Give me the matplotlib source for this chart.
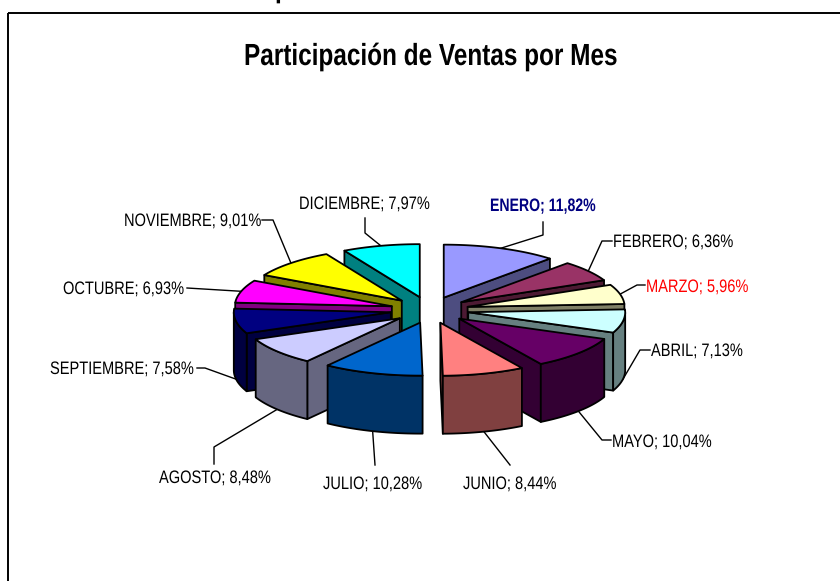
import numpy as np
import matplotlib
matplotlib.use('Agg')
import matplotlib.pyplot as plt
from matplotlib.patches import Polygon, Rectangle
from matplotlib.patheffects import AbstractPathEffect
from matplotlib.transforms import Affine2D

months = ['ENERO', 'FEBRERO', 'MARZO', 'ABRIL', 'MAYO', 'JUNIO', 'JULIO',
          'AGOSTO', 'SEPTIEMBRE', 'OCTUBRE', 'NOVIEMBRE', 'DICIEMBRE']
shares = [11.82, 6.36, 5.96, 7.13, 10.04, 8.44, 10.28, 8.48, 7.58, 6.93, 9.01, 7.97]
top_colors = ['#9999FF', '#993366', '#FFFFCC', '#CCFFFF', '#660066', '#FF8080',
              '#0066CC', '#CCCCFF', '#000080', '#FF00FF', '#FFFF00', '#00FFFF']
side_colors = ['#4D4D80', '#4D1A33', '#808066', '#668080', '#330033', '#804040',
               '#003366', '#666680', '#000040', '#800080', '#808000', '#008080']

# pie geometry in pixels
cx, cy = 429.5, 310
rx, ry = 157, 53
explode = 0.25
depth = 58
# the front slices sit slightly right of where the plain ellipse puts them
x_nudge = {'JULIO': 2.5, 'AGOSTO': 1}

# label layout: left x, baseline y and the leader bends
label_pos = [(490, 211), (613, 247), (646, 292), (651, 356),
             (612, 447), (463, 489), (323, 489), (159, 483),
             (50, 374), (63, 294), (124, 226), (299, 209)]
leader_bends = [[(543, 235), (543, 222)], [(602, 241), (612, 241)], [(637, 285), (645, 285)],
                [(640, 350), (650, 350)], [(602, 440), (611, 440)], [(510, 465)], [(375, 465)],
                [(214, 447), (214, 464)], [(205, 368), (197, 368)], [(187, 288)],
                [(273, 220), (262, 220)], [(365, 233), (365, 218)]]
label_colors = {'ENERO': '#000080', 'MARZO': '#FF0000'}

plt.rcParams['font.family'] = ['Liberation Sans', 'DejaVu Sans']


# the original text is a condensed Arial, so squeeze the glyphs sideways
class Squeeze(AbstractPathEffect):
    def __init__(self, sx):
        super().__init__()
        self.sx = sx

    def draw_path(self, renderer, gc, tpath, affine, rgbFace=None):
        renderer.draw_path(gc, tpath, Affine2D().scale(self.sx, 1) + affine, rgbFace)


fig = plt.figure(figsize=(8.4, 5.81), dpi=100)
ax = fig.add_axes([0, 0, 1, 1])
ax.set_xlim(0, 840)
ax.set_ylim(581, 0)
ax.axis('off')

ax.add_patch(Rectangle((8, 12.5), 900, 700, fill=False, ec='black', lw=1.4))
ax.text(244, 65, 'Participación de Ventas por Mes', ha='left', va='baseline',
        fontsize=22, fontweight='bold', color='black', path_effects=[Squeeze(0.797)])
ax.text(275, -3, 'p', ha='left', va='baseline', fontsize=22, fontweight='bold',
        color='black', path_effects=[Squeeze(0.797)])

fractions = np.array(shares) / sum(shares)
ends = np.cumsum(fractions) * 2 * np.pi
starts = ends - fractions * 2 * np.pi
mids = (starts + ends) / 2


def rim(apex, a):
    return apex[0] + rx * np.sin(a), apex[1] - ry * np.cos(a)


def slice_apex(i):
    return (cx + explode * rx * np.sin(mids[i]) + x_nudge.get(months[i], 0),
            cy - explode * ry * np.cos(mids[i]))


# back slices first, front slices last
order = np.argsort(-np.cos(mids))
for i in order:
    apex = slice_apex(i)
    angles = np.linspace(starts[i], ends[i], 60)
    xs, ys = rim(apex, angles)

    # radial side faces
    for a, visible in ((starts[i], np.sin(starts[i]) < 0), (ends[i], np.sin(ends[i]) > 0)):
        if visible:
            x1, y1 = rim(apex, a)
            face = [apex, (x1, y1), (x1, y1 + depth), (apex[0], apex[1] + depth)]
            ax.add_patch(Polygon(face, fc=side_colors[i], ec='black', lw=1.3, joinstyle='round'))

    # outer wall
    front = np.cos(angles) < 0
    if front.any():
        fx, fy = xs[front], ys[front]
        wall = np.column_stack([np.r_[fx, fx[::-1]], np.r_[fy, fy[::-1] + depth]])
        ax.add_patch(Polygon(wall, fc=side_colors[i], ec='black', lw=1.3, joinstyle='round'))

    # top face
    top = np.column_stack([np.r_[apex[0], xs], np.r_[apex[1], ys]])
    ax.add_patch(Polygon(top, fc=top_colors[i], ec='black', lw=1.3, joinstyle='round'))

# leaders and labels
for i, name in enumerate(months):
    x0, y0 = rim(slice_apex(i), mids[i])
    if np.cos(mids[i]) < 0:
        y0 += depth
    pts = [(x0, y0)] + leader_bends[i]
    ax.plot([p[0] for p in pts], [p[1] for p in pts], color='black', lw=1.0, zorder=0.5)
    text = '%s; %s%%' % (name, ('%.2f' % shares[i]).replace('.', ','))
    x, y = label_pos[i]
    ax.text(x, y, text, ha='left', va='baseline', fontsize=13,
            color=label_colors.get(name, 'black'),
            fontweight='bold' if name == 'ENERO' else 'normal',
            path_effects=[Squeeze(0.78 if name == 'ENERO' else 0.81)])

fig.savefig('out.png', dpi=100)
plt.close()
